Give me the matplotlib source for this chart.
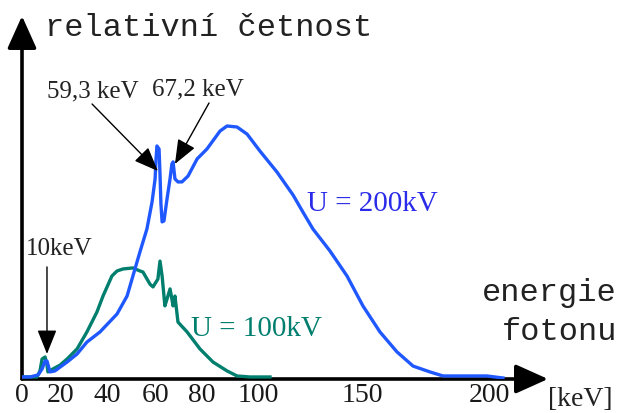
import matplotlib
matplotlib.use("Agg")
import matplotlib.pyplot as plt

# ---- data (energy in keV-like units, relative frequency in arbitrary units, peak = 100) ----
e_200 = [0, 3.4, 6.9, 8.6, 9.9, 10.7, 12.0, 14.1, 16.3, 19.3, 23.6, 27.8, 33.4, 40.7, 45.0, 47.5,
         50.5, 53.5, 55.7, 57.0, 57.4, 57.8, 58.7, 59.1, 59.5, 60.0, 60.8, 62.1, 63.4, 64.2, 64.7,
         65.5, 66.8, 68.5, 71.1, 75.0, 79.2, 84.8, 87.8, 92.1, 96.4, 101.9, 109.2, 116.1, 120.3,
         124.6, 131.9, 139.2, 146.0, 153.3, 160.6, 167.5, 174.7, 180.3, 191.9, 199.1, 206.0]
v_200 = [0.8, 0.8, 1.6, 4.0, 7.1, 7.1, 2.8, 3.2, 4.7, 6.7, 9.9, 14.6, 18.6, 25.7, 32.8, 40.7,
         50.2, 59.3, 70.0, 79.1, 87.0, 92.1, 90.9, 81.0, 69.2, 62.1, 62.5, 71.1, 79.1, 85.0, 85.8,
         79.1, 77.9, 77.9, 80.2, 87.0, 90.9, 98.0, 100.0, 99.6, 96.8, 90.1, 81.8, 72.7, 66.0,
         59.3, 50.6, 40.7, 28.9, 18.6, 10.7, 5.1, 2.8, 1.2, 1.2, 1.2, 0.4]

e_100 = [0.4, 6.4, 7.7, 8.6, 9.9, 10.7, 11.1, 13.3, 16.3, 19.3, 23.6, 27.8, 32.1, 34.7, 38.5,
         40.7, 43.3, 47.5, 50.5, 51.8, 54.8, 56.1, 58.2, 59.1, 60.0, 61.2, 62.1, 63.4, 64.2, 64.7,
         65.5, 66.8, 70.7, 76.2, 81.8, 87.8, 92.1, 97.6, 106.2]
v_100 = [0.8, 0.8, 3.2, 7.9, 8.7, 5.5, 2.8, 4.0, 5.5, 7.9, 11.9, 18.6, 26.5, 32.8, 40.7,
         42.7, 43.5, 43.9, 42.7, 42.3, 37.5, 36.4, 39.5, 46.6, 40.7, 28.9, 31.6, 35.6, 31.6, 28.9,
         32.8, 22.5, 18.6, 11.9, 6.7, 3.2, 1.2, 0.8, 0.8]

tick_pos = [0, 16.7, 36.4, 57.0, 77.1, 101.1, 145.6, 200.0]
tick_labels = ["0", "20", "40", "60", "80", "100", "150", "200"]

BLUE = "#2058ff"
BLUE_TXT = "#2b2bea"
TEAL = "#007f6e"

W, H = 619, 414
fig = plt.figure(figsize=(W / 100, H / 100), dpi=100)
fig.patch.set_facecolor("white")

x0, y0 = 22, 380          # origin in pixels (from top-left)
x1, ytop = 548, 17        # arrow tips
ax = fig.add_axes([x0 / W, (H - y0) / H, (x1 - x0) / W, (y0 - ytop) / H])
ax.set_xlim(0, (x1 - x0) / 2.335)
ax.set_ylim(0, (y0 - ytop) / 2.53)
ax.patch.set_alpha(0)
for s in ax.spines.values():
    s.set_visible(False)
ax.set_yticks([])

serif = "Liberation Serif"
mono = "Liberation Mono"

ax.set_xticks(tick_pos, tick_labels)
ax.tick_params(axis="x", length=0, pad=2, labelsize=20, labelcolor="#1a1a1a")
for t in ax.get_xticklabels():
    t.set_fontfamily(serif)

# curves
ax.plot(e_100, v_100, color=TEAL, lw=2.4, solid_joinstyle="round", zorder=3)
ax.plot(e_200, v_200, color=BLUE, lw=2.4, solid_joinstyle="round", zorder=4)

# axes arrows
axis_arrow = dict(arrowstyle="-|>,head_length=1.0,head_width=0.45", color="black",
                  lw=2.6, mutation_scale=20, shrinkA=0, shrinkB=0)
ax.annotate("", xy=(1, 0), xytext=(0, 0), xycoords="axes fraction",
            textcoords="axes fraction", arrowprops=axis_arrow, zorder=2)
ax.annotate("", xy=(0, 1), xytext=(0, 0), xycoords="axes fraction",
            textcoords="axes fraction", arrowprops=axis_arrow, zorder=2)

# peak annotations
thin = dict(arrowstyle="-|>,head_length=0.75,head_width=0.3", color="black",
            lw=1.0, mutation_scale=20, shrinkA=0, shrinkB=0)
ax.annotate("", xy=(58.2, 82.2), xytext=(30.0, 108.7), arrowprops=thin, zorder=5)
ax.annotate("", xy=(65.5, 85.0), xytext=(80.1, 109.1), arrowprops=thin, zorder=5)
ax.annotate("", xy=(10.7, 9.9), xytext=(10.7, 44.3), arrowprops=thin, zorder=5)

ax.text(10.7, 114.2, "59,3 keV", family=serif, fontsize=18, va="center", ha="left", color="#222222")
ax.text(55.7, 115.0, "67,2 keV", family=serif, fontsize=18, va="center", ha="left", color="#222222")
ax.text(1.7, 51.8, "10keV", family=serif, fontsize=18, va="center", ha="left", color="#222222")
ax.text(122.0, 69.6, "U = 200kV", family=serif, fontsize=21, va="center", ha="left", color=BLUE_TXT)
ax.text(72.4, 20.2, "U = 100kV", family=serif, fontsize=21, va="center", ha="left", color=TEAL)

fig.text(45 / W, 1 - 28 / H, "relativní četnost", family=mono, fontsize=23,
         va="center", ha="left", color="#222222")
fig.text(617 / W, 1 - 293 / H, "energie", family=mono, fontsize=23,
         va="center", ha="right", color="#222222")
fig.text(617 / W, 1 - 332 / H, "fotonu", family=mono, fontsize=23,
         va="center", ha="right", color="#222222")
fig.text(548 / W, 1 - 400 / H, "[keV]", family=serif, fontsize=20,
         va="center", ha="left", color="#222222")

fig.savefig("out.png", dpi=100)
